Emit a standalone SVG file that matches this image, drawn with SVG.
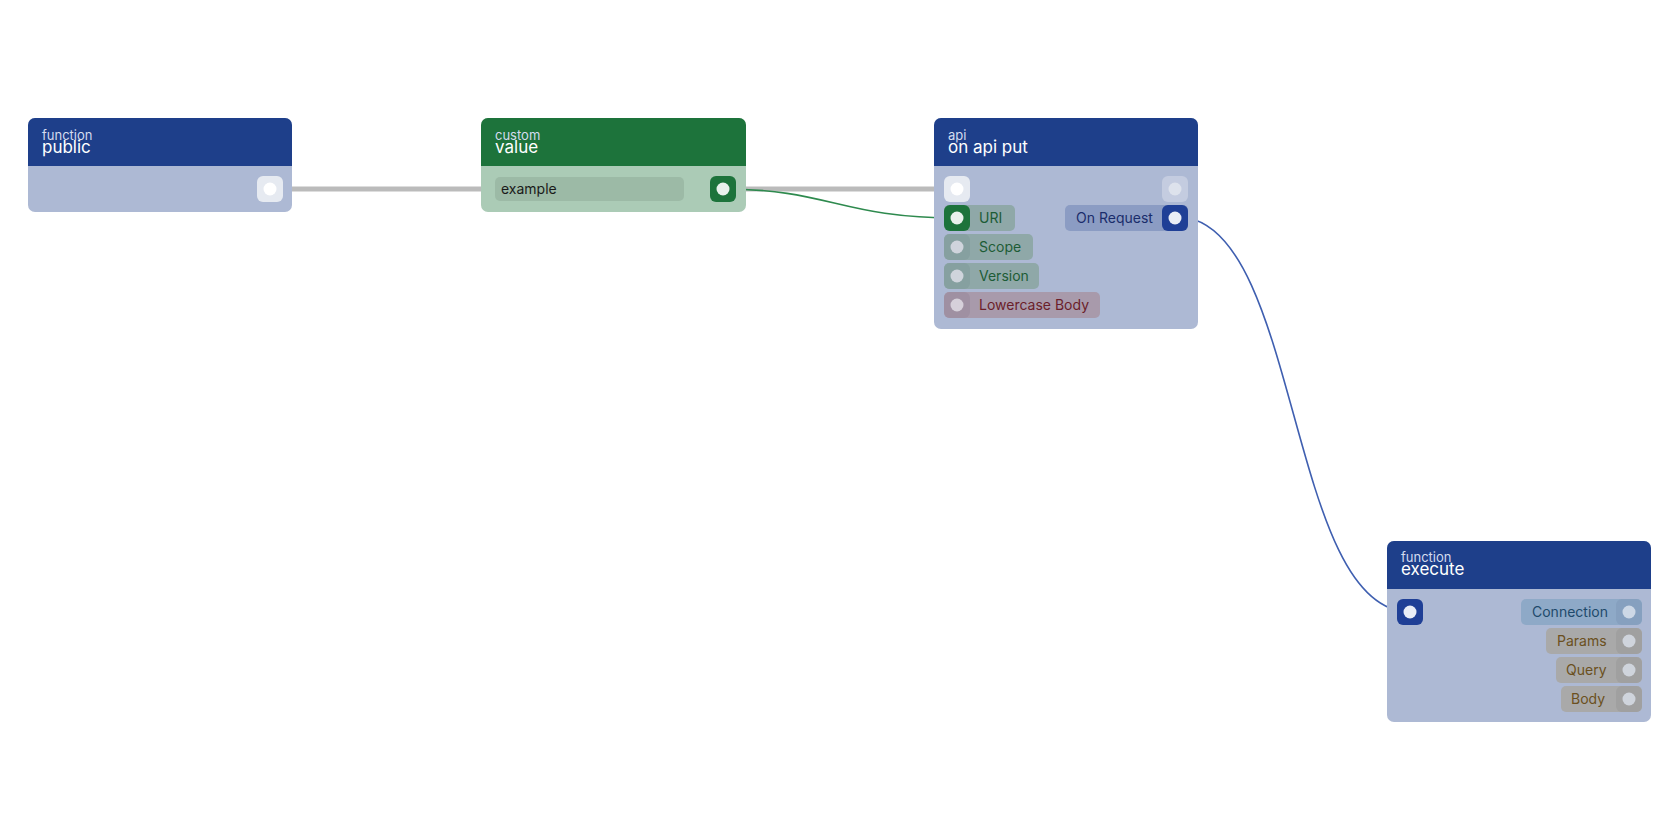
<svg xmlns="http://www.w3.org/2000/svg" width="1680" height="840" viewBox="0 0 1680 840">
<style>
text{font-family:Inter,"Noto Sans",sans-serif}
.hb{fill:#1e3f8a}.hg{fill:#1d733b}
.bb{fill:#adb9d4}.bg{fill:#abcbb6}
.kind{font-size:13px;fill:#d4dcef}
.name{font-size:17px;fill:#fff}
.lbl{font-size:14px}
.dot{fill:#e9edf3}
.dim{fill:#cfd4dc}
</style>
<rect width="1680" height="840" fill="#fff"/>
<g id="connectors" fill="none">
<line x1="292" y1="189" x2="940" y2="189" stroke="#bbbbbb" stroke-width="5"/>
<path d="M723,189 C830,189 840,218 957,218" stroke="#2e8a4e" stroke-width="1.6"/>
<path d="M1188,218 C1300,240 1290,612 1410,612" stroke="#3f5fb0" stroke-width="1.6"/>
</g>
<g id="node-public">
<rect x="28" y="118" width="264" height="94" rx="7" class="bb"/>
<path d="M28,166 V125 a7,7 0 0 1 7,-7 H285 a7,7 0 0 1 7,7 V166 Z" class="hb"/>
<text x="42" y="140" class="kind">function</text>
<text x="42" y="153" class="name">public</text>
<rect x="257" y="176" width="26" height="26" rx="6" fill="#e6eaf1"/>
<circle cx="270" cy="189" r="6.5" fill="#fff"/>
</g>
<g id="node-value">
<rect x="481" y="118" width="265" height="94" rx="7" class="bg"/>
<path d="M481,166 V125 a7,7 0 0 1 7,-7 H739 a7,7 0 0 1 7,7 V166 Z" class="hg"/>
<text x="495" y="140" class="kind">custom</text>
<text x="495" y="153" class="name">value</text>
<rect x="495" y="177" width="189" height="24" rx="5" fill="#9cbaa6"/>
<text x="501" y="194" class="lbl" fill="#1a1a1a" font-size="15">example</text>
<rect x="710" y="176" width="26" height="26" rx="6" fill="#1d733b"/>
<circle cx="723" cy="189" r="6.5" fill="#e9f1ec"/>
</g>
<g id="node-api">
<rect x="934" y="118" width="264" height="211" rx="7" class="bb"/>
<path d="M934,166 V125 a7,7 0 0 1 7,-7 H1191 a7,7 0 0 1 7,7 V166 Z" class="hb"/>
<text x="948" y="140" class="kind">api</text>
<text x="948" y="153" class="name">on api put</text>
<rect x="944" y="176" width="26" height="26" rx="6" fill="#e6eaf1"/>
<circle cx="957" cy="189" r="6.5" fill="#fff"/>
<rect x="1162" y="176" width="26" height="26" rx="6" fill="#c4cce0"/>
<circle cx="1175" cy="189" r="6.5" fill="#dde2ec"/>
<rect x="944" y="205" width="71" height="26" rx="5" fill="#8fa8a8"/>
<rect x="944" y="205" width="26" height="26" rx="6" fill="#1d733b"/>
<circle cx="957" cy="218" r="6.5" fill="#e9f1ec"/>
<text x="979" y="223" class="lbl" fill="#1d5c36">URI</text>
<rect x="944" y="234" width="89" height="26" rx="5" fill="#8fa8a8"/>
<rect x="944" y="234" width="26" height="26" rx="6" fill="#86a0a0"/>
<circle cx="957" cy="247" r="6.5" class="dim"/>
<text x="979" y="252" class="lbl" fill="#1d5c36">Scope</text>
<rect x="944" y="263" width="95" height="26" rx="5" fill="#8fa8a8"/>
<rect x="944" y="263" width="26" height="26" rx="6" fill="#86a0a0"/>
<circle cx="957" cy="276" r="6.5" class="dim"/>
<text x="979" y="281" class="lbl" fill="#1d5c36">Version</text>
<rect x="944" y="292" width="156" height="26" rx="5" fill="#a89aab"/>
<rect x="944" y="292" width="26" height="26" rx="6" fill="#9f90a2"/>
<circle cx="957" cy="305" r="6.5" fill="#d6d0da"/>
<text x="979" y="310" class="lbl" fill="#6b1e2a">Lowercase Body</text>
<rect x="1065" y="205" width="123" height="26" rx="5" fill="#8b9cc3"/>
<rect x="1162" y="205" width="26" height="26" rx="6" fill="#1f3f96"/>
<circle cx="1175" cy="218" r="6.5" fill="#e9edf6"/>
<text x="1076" y="223" class="lbl" fill="#1a2d6b">On Request</text>
</g>
<g id="node-execute">
<rect x="1387" y="541" width="264" height="181" rx="7" class="bb"/>
<path d="M1387,589 V548 a7,7 0 0 1 7,-7 H1644 a7,7 0 0 1 7,7 V589 Z" class="hb"/>
<text x="1401" y="562" class="kind">function</text>
<text x="1401" y="575" class="name">execute</text>
<rect x="1397" y="599" width="26" height="26" rx="6" fill="#1f3f96"/>
<circle cx="1410" cy="612" r="6.5" fill="#e9edf6"/>
<rect x="1521" y="599" width="121" height="26" rx="5" fill="#8ea9c7"/>
<rect x="1616" y="599" width="26" height="26" rx="6" fill="#86a0bf"/>
<circle cx="1629" cy="612" r="6.5" fill="#cdd8e6"/>
<text x="1532" y="617" class="lbl" fill="#1e4a6b">Connection</text>
<rect x="1546" y="628" width="96" height="26" rx="5" fill="#a9a9a9"/>
<rect x="1616" y="628" width="26" height="26" rx="6" fill="#a0a0a0"/>
<circle cx="1629" cy="641" r="6.5" class="dim"/>
<text x="1557" y="646" class="lbl" fill="#6b5020">Params</text>
<rect x="1556" y="657" width="86" height="26" rx="5" fill="#a9a9a9"/>
<rect x="1616" y="657" width="26" height="26" rx="6" fill="#a0a0a0"/>
<circle cx="1629" cy="670" r="6.5" class="dim"/>
<text x="1566" y="675" class="lbl" fill="#6b5020">Query</text>
<rect x="1561" y="686" width="81" height="26" rx="5" fill="#a9a9a9"/>
<rect x="1616" y="686" width="26" height="26" rx="6" fill="#a0a0a0"/>
<circle cx="1629" cy="699" r="6.5" class="dim"/>
<text x="1571" y="704" class="lbl" fill="#6b5020">Body</text>
</g>
</svg>
